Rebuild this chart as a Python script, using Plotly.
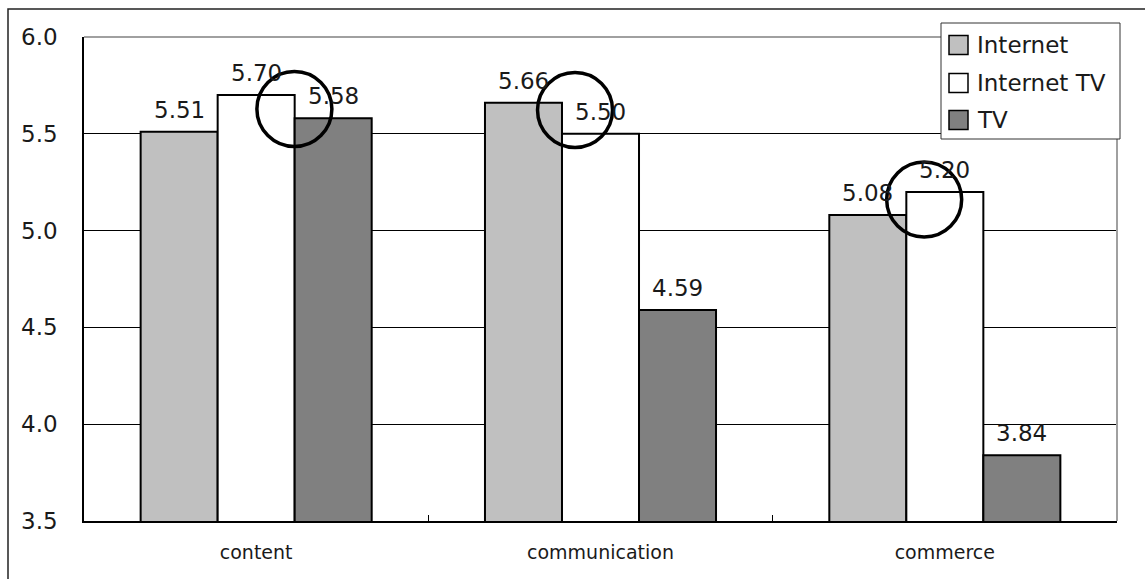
import plotly.graph_objects as go

# ---- data ----
categories = ["content", "communication", "commerce"]
series_names = ["Internet", "Internet TV", "TV"]
internet = [5.51, 5.66, 5.08]
internet_tv = [5.70, 5.50, 5.20]
tv = [5.58, 4.59, 3.84]
series_values = [internet, internet_tv, tv]
series_colors = ["#c0c0c0", "#ffffff", "#808080"]

# highlighted spots (category position, value) circled on the chart
highlight_x = [0.111, 0.926, 1.94]
highlight_y = [5.628, 5.623, 5.161]

# ---- layout geometry (pixels) ----
FIG_W, FIG_H = 1145, 579
M_L, M_R, M_T, M_B = 84, 28, 37, 58
PLOT_W = FIG_W - M_L - M_R
PLOT_H = FIG_H - M_T - M_B
BARGAP = 0.329
BAR_PX = PLOT_W / len(categories) * (1 - BARGAP) / len(series_names)

FONT = "DejaVu Sans"
TXT = "#1a1a1a"


def px_x(px):
    return (px - M_L) / PLOT_W


def px_y(py):
    return (FIG_H - M_B - py) / PLOT_H


fig = go.Figure()
annotations = []
n_series = len(series_names)
for i, (name, vals, col) in enumerate(zip(series_names, series_values, series_colors)):
    fig.add_trace(go.Bar(
        x=categories, y=vals, name=name,
        marker=dict(color=col, line=dict(color="#000000", width=2)),
        showlegend=False,
    ))
    # value labels above each bar
    shift = (i - (n_series - 1) / 2) * BAR_PX
    for cat, v in zip(categories, vals):
        annotations.append(dict(
            x=cat, y=v, xref="x", yref="y", text=f"{v:.2f}", showarrow=False,
            xanchor="center", yanchor="bottom", xshift=shift, yshift=7,
            font=dict(family=FONT, size=23, color=TXT),
        ))

shapes = []
# outer frame of the whole chart
shapes.append(dict(type="rect", xref="paper", yref="paper",
                   x0=px_x(8), x1=px_x(1160), y0=px_y(9), y1=px_y(600),
                   line=dict(color="#222222", width=1.5), layer="below"))
# grey top and right border of the plotting area
shapes.append(dict(type="line", xref="paper", yref="paper", x0=0, x1=1, y0=1, y1=1,
                   line=dict(color="#a0a0a0", width=2)))
shapes.append(dict(type="line", xref="paper", yref="paper", x0=1, x1=1, y0=0, y1=1,
                   line=dict(color="#a0a0a0", width=2)))

# circles around highlighted spots
for cx, cy in zip(highlight_x, highlight_y):
    shapes.append(dict(type="circle", xref="x", yref="y",
                       xsizemode="pixel", ysizemode="pixel",
                       xanchor=cx, yanchor=cy,
                       x0=-37.5, x1=37.5, y0=-37.5, y1=37.5,
                       line=dict(color="#000000", width=3.5)))

# legend box
shapes.append(dict(type="rect", xref="paper", yref="paper",
                   x0=px_x(941), x1=px_x(1120), y0=px_y(139), y1=px_y(23),
                   fillcolor="#ffffff", line=dict(color="#333333", width=1)))
row_y = [45, 83, 120]
for name, col, ry in zip(series_names, series_colors, row_y):
    shapes.append(dict(type="rect", xref="paper", yref="paper",
                       x0=px_x(949), x1=px_x(968), y0=px_y(ry + 9.5), y1=px_y(ry - 9.5),
                       fillcolor=col, line=dict(color="#000000", width=1.5)))
    annotations.append(dict(xref="paper", yref="paper", x=px_x(975), y=px_y(ry),
                            xanchor="left", yanchor="middle", text=name, showarrow=False,
                            font=dict(family=FONT, size=23, color=TXT)))

fig.update_layout(
    width=FIG_W, height=FIG_H,
    margin=dict(l=M_L, r=M_R, t=M_T, b=M_B),
    paper_bgcolor="#ffffff", plot_bgcolor="#ffffff",
    barmode="group", bargap=BARGAP, bargroupgap=0,
    shapes=shapes, annotations=annotations,
    font=dict(family=FONT, color=TXT),
)
fig.update_xaxes(
    showline=True, linecolor="#000000", linewidth=1.5,
    ticks="inside", tickson="boundaries", ticklen=6, tickcolor="#000000", tickwidth=1,
    tickfont=dict(family=FONT, size=19, color=TXT),
    ticklabelstandoff=13, showgrid=False,
)
fig.update_yaxes(
    range=[3.5, 6.0], dtick=0.5, tickformat=".1f",
    showline=True, linecolor="#000000", linewidth=1.5,
    showgrid=True, gridcolor="#000000", gridwidth=1,
    ticks="", ticklabelstandoff=20,
    tickfont=dict(family=FONT, size=23, color=TXT),
    zeroline=False,
)

fig.write_html("out.html")
